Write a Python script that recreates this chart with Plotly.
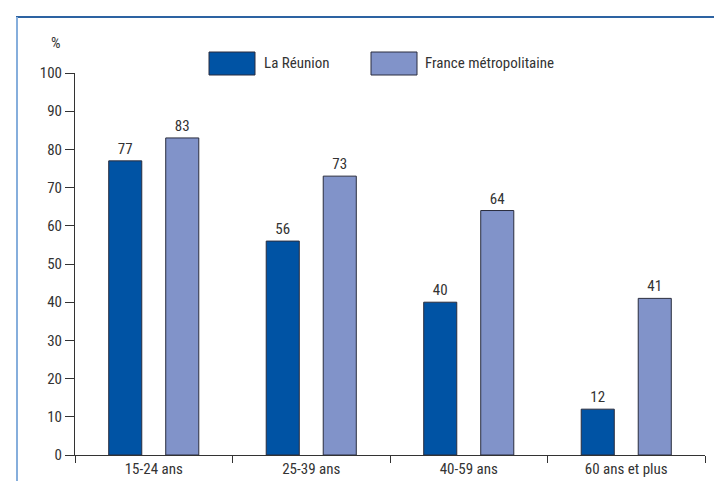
import plotly.graph_objects as go

categories = ["15-24 ans", "25-39 ans", "40-59 ans", "60 ans et plus"]
reunion = [77, 56, 40, 12]
france = [83, 73, 64, 41]
series_names = ["La Réunion", "France métropolitaine"]
colors = ["#0053a4", "#8193c9"]
y_ticks = [0, 10, 20, 30, 40, 50, 60, 70, 80, 90, 100]

FONT = "Noto Sans Condensed, Roboto Condensed, DejaVu Sans Condensed, sans-serif"
FS = 15
FW = 400
TXT = "#333333"
W, H = 722, 481
ML, MR, MT, MB = 67, 25, 65, 34
PW, PH = W - ML - MR, H - MT - MB


def px(x):
    return (x - ML) / PW


def py(y):
    return (H - MB - y) / PH


def fnt():
    return dict(family=FONT, size=FS, color=TXT, weight=FW)


fig = go.Figure()
for name, vals, col in zip(series_names, [reunion, france], colors):
    fig.add_trace(go.Bar(
        x=categories, y=vals, name=name,
        marker=dict(color=col, line=dict(color="#2a2d3e", width=1)),
        texttemplate="%{y}", textposition="outside",
        textfont=fnt(),
        cliponaxis=False, showlegend=False,
    ))

shapes = [
    # frame
    dict(type="line", xref="paper", yref="paper", x0=px(8), x1=px(722), y0=py(9), y1=py(9),
         line=dict(color="#2d63a2", width=2)),
    dict(type="line", xref="paper", yref="paper", x0=px(9), x1=px(9), y0=py(9), y1=py(481),
         line=dict(color="#86aedc", width=2)),
]
annotations = [
    dict(text="%", xref="paper", yref="paper", x=px(48), y=py(35), showarrow=False,
         xanchor="center", yanchor="middle", font=fnt()),
]
legend_x = [(201, 247, 254), (363, 409, 415)]
for (x0, x1, tx), name, col in zip(legend_x, series_names, colors):
    shapes.append(dict(type="rect", xref="paper", yref="paper", x0=px(x0), x1=px(x1),
                       y0=py(67), y1=py(44), fillcolor=col,
                       line=dict(color="#2a2d3e", width=1)))
    annotations.append(dict(text=name, xref="paper", yref="paper", x=px(tx), y=py(55),
                            showarrow=False, xanchor="left", yanchor="middle",
                            font=fnt()))

fig.update_layout(
    width=W, height=H,
    margin=dict(l=ML, r=MR, t=MT, b=MB),
    paper_bgcolor="white", plot_bgcolor="white",
    barmode="group", bargap=0.276, bargroupgap=0.42,
    font=fnt(),
    shapes=shapes, annotations=annotations,
    xaxis=dict(showline=True, linecolor="#333333", linewidth=1, ticks="outside",
               tickson="boundaries", ticklen=7, tickcolor="#333333", showgrid=False,
               tickfont=fnt()),
    yaxis=dict(range=[0, 100], tickvals=y_ticks, showline=True, linecolor="#333333",
               linewidth=1, ticks="outside", ticklen=9, tickcolor="#333333",
               showgrid=False, zeroline=False,
               tickfont=fnt()),
)

fig.write_html("out.html")
